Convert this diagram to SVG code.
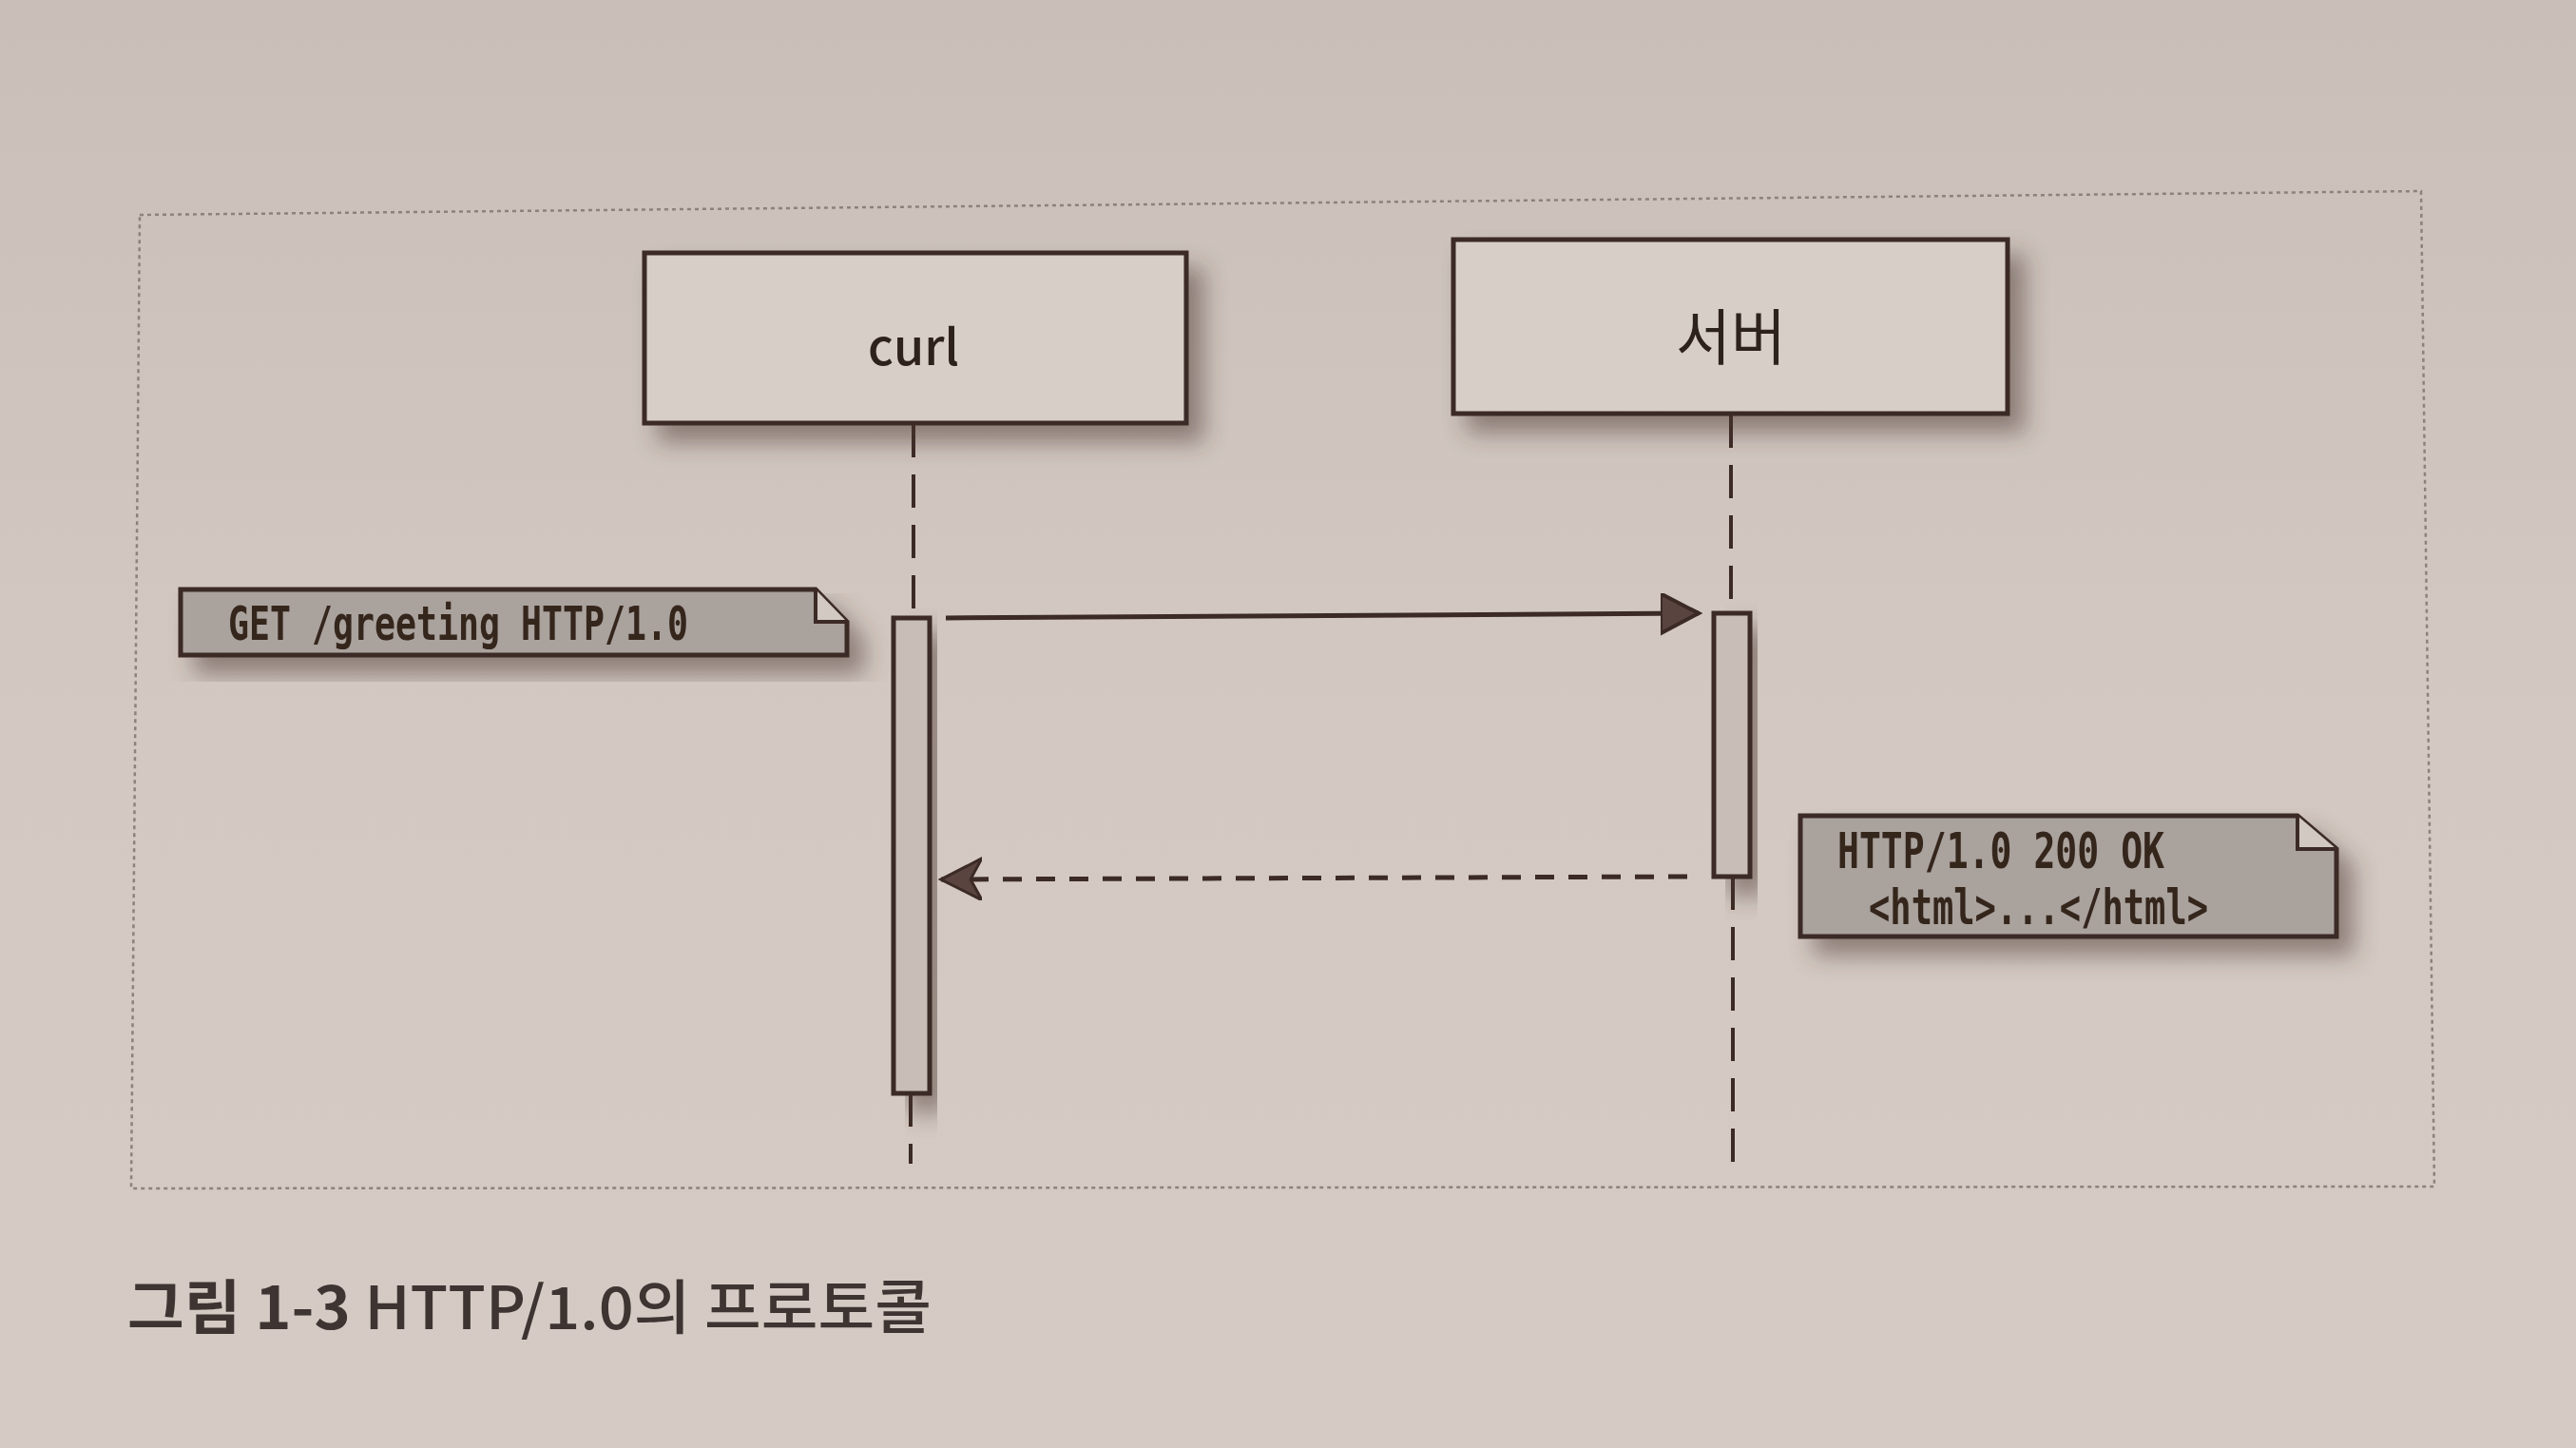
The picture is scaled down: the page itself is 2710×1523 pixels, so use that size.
<svg xmlns="http://www.w3.org/2000/svg" width="2710" height="1523" viewBox="0 0 2710 1523">
<defs>
<linearGradient id="bg" x1="0" y1="0" x2="0" y2="1">
<stop offset="0" stop-color="#c9bfb8"/>
<stop offset="0.5" stop-color="#d3c9c2"/>
<stop offset="1" stop-color="#d5cbc4"/>
</linearGradient>
<filter id="sh" x="-10%" y="-20%" width="130%" height="160%">
<feGaussianBlur in="SourceAlpha" stdDeviation="12"/>
<feOffset dx="16" dy="18" result="b"/>
<feFlood flood-color="#4a3530" flood-opacity="0.5"/>
<feComposite in2="b" operator="in" result="s"/>
<feMerge><feMergeNode in="s"/><feMergeNode in="SourceGraphic"/></feMerge>
</filter>
<marker id="fill" markerUnits="userSpaceOnUse" markerWidth="44" markerHeight="46" refX="40" refY="21" orient="auto" viewBox="0 0 44 46">
<path d="M0,0 L40,21 L0,42 Z" fill="#5a4440" stroke="#3b2a25" stroke-width="4" stroke-linejoin="miter"/>
</marker>
<marker id="stealth" markerUnits="userSpaceOnUse" markerWidth="46" markerHeight="48" refX="43" refY="22" orient="auto" viewBox="0 0 46 48">
<path d="M0,0 L43,22 L0,44 L12,22 Z" fill="#5a4440" stroke="#3b2a25" stroke-width="3"/>
</marker>
</defs>
<style>
.box{fill:#d7cec7;stroke:#3b2a25;stroke-width:5}
.bar{fill:#c8beb7;stroke:#3b2a25;stroke-width:5}
.note{fill:#aaa29c;stroke:#3b2a25;stroke-width:5;stroke-linejoin:miter}
.fold{fill:#d2c9c2;stroke:#3b2a25;stroke-width:4}
.life{stroke:#3b2a25;stroke-width:4;stroke-dasharray:35 18;fill:none}
.lbl{font-family:"Noto Sans CJK KR","Liberation Sans",sans-serif;fill:#2e201c;text-anchor:middle}
.mono{font-family:"DejaVu Sans Mono","Liberation Mono",monospace;fill:#35251f;font-weight:bold}
.cap{font-family:"Noto Sans CJK KR","Liberation Sans",sans-serif;fill:#3e3431;font-size:62px}
</style>
<rect x="0" y="0" width="2710" height="1523" fill="url(#bg)"/>
<path d="M147,226 L2547,201 L2561,1248 L138,1250 Z" fill="none" stroke="#8c827c" stroke-width="2.5" stroke-dasharray="4 4"/>

<g id="connectors">
<line class="life" x1="961" y1="446" x2="961" y2="649"/>
<line class="life" x1="958" y1="1150" x2="958" y2="1224"/>
<line class="life" x1="1821" y1="436" x2="1821" y2="643"/>
<line class="life" x1="1823" y1="922" x2="1823" y2="1226"/>
<line x1="995" y1="650" x2="1787" y2="645" stroke="#3b2a25" stroke-width="5" marker-end="url(#fill)"/>
<line x1="1775" y1="922" x2="990" y2="925" stroke="#3b2a25" stroke-width="5" stroke-dasharray="20 15" marker-end="url(#stealth)"/>
</g>

<g id="curl" filter="url(#sh)">
<rect class="box" x="678" y="266" width="570" height="179"/>
<text class="lbl" x="961" y="384" font-size="52" font-weight="500">curl</text>
</g>
<g id="server" filter="url(#sh)">
<rect class="box" x="1529" y="252" width="583" height="183"/>
<text class="lbl" x="1821" y="378" font-size="64" font-weight="400" textLength="116" lengthAdjust="spacingAndGlyphs">서버</text>
</g>
<g id="curl-activation" filter="url(#sh)">
<rect class="bar" x="940" y="650" width="38" height="500"/>
</g>
<g id="server-activation" filter="url(#sh)">
<rect class="bar" x="1803" y="645" width="38" height="277"/>
</g>
<g id="note-request" filter="url(#sh)">
<path class="note" d="M190,620 H858 L891,654 V689 H190 Z"/>
<path class="fold" d="M858,620 V654 H891"/>
<text class="mono" x="240" y="673" font-size="50" textLength="484" lengthAdjust="spacingAndGlyphs">GET /greeting HTTP/1.0</text>
</g>
<g id="note-response" filter="url(#sh)">
<path class="note" d="M1894,858 H2417 L2458,893 V985 H1894 Z"/>
<path class="fold" d="M2417,858 V893 H2458"/>
<text class="mono" x="1933" y="913" font-size="52" textLength="344" lengthAdjust="spacingAndGlyphs">HTTP/1.0 200 OK</text>
<text class="mono" x="1966" y="972" font-size="52" textLength="357" lengthAdjust="spacingAndGlyphs">&lt;html&gt;...&lt;/html&gt;</text>
</g>

<text class="cap" x="134" y="1398" textLength="846" lengthAdjust="spacingAndGlyphs"><tspan font-weight="700">그림 1-3</tspan><tspan font-weight="500"> HTTP/1.0의 프로토콜</tspan></text>
</svg>
